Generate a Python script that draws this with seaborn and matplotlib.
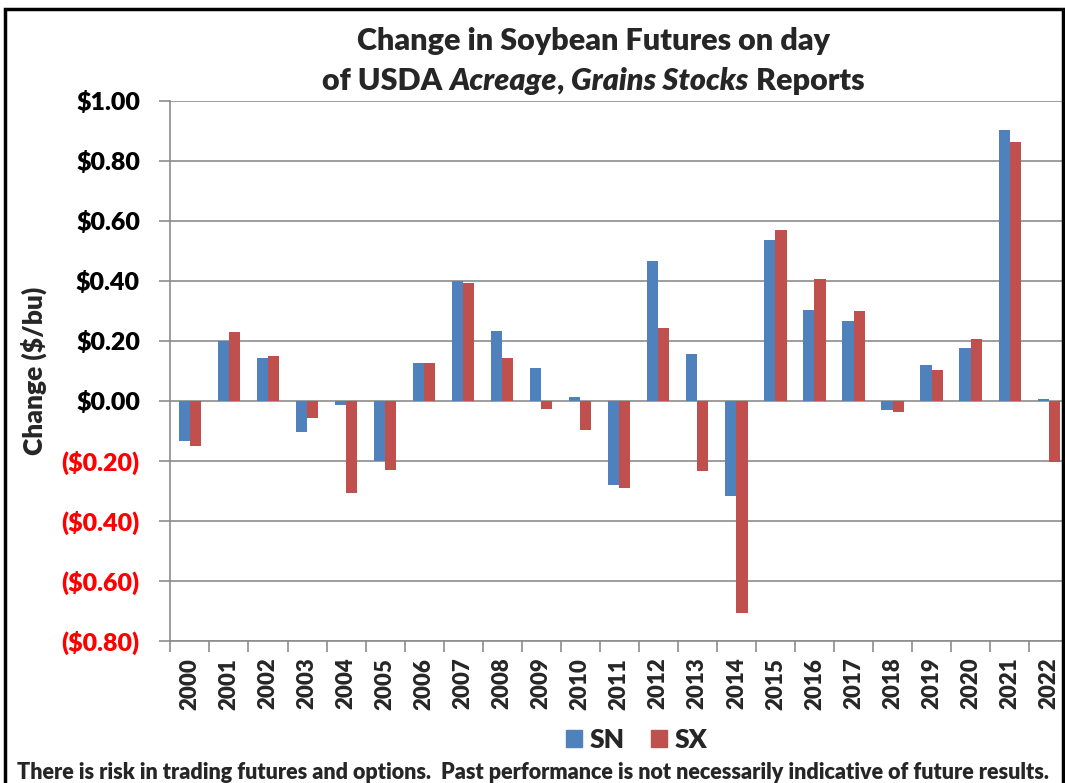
import numpy as np
import pandas as pd
import matplotlib
matplotlib.use('Agg')
import matplotlib.pyplot as plt
import seaborn as sns
from matplotlib.patches import Rectangle

# values ($/bu)
years = [str(y) for y in range(2000, 2023)]
sn = [-0.133, 0.200, 0.142, -0.103, -0.015, -0.200, 0.127, 0.400, 0.234, 0.110,
      0.012, -0.281, 0.465, 0.158, -0.316, 0.535, 0.304, 0.267, -0.030, 0.119,
      0.178, 0.902, 0.006]
sx = [-0.151, 0.229, 0.149, -0.058, -0.307, -0.229, 0.127, 0.394, 0.142, -0.026,
      -0.096, -0.289, 0.242, -0.234, -0.708, 0.571, 0.407, 0.299, -0.037, 0.104,
      0.208, 0.862, -0.202]
series = ['SN', 'SX']
colors = ['#4F81BD', '#C0504D']
yticks = [1.0, 0.8, 0.6, 0.4, 0.2, 0.0, -0.2, -0.4, -0.6, -0.8]

df = pd.DataFrame({
    'year': years * 2,
    'change': sn + sx,
    'contract': ['SN'] * len(years) + ['SX'] * len(years),
})

W = 'heavy'

sns.set_style('white')
plt.rcParams['font.family'] = ['Lato', 'DejaVu Sans']
plt.rcParams['font.weight'] = W

fig = plt.figure(figsize=(10.65, 7.83), dpi=100)
ax = fig.add_axes([0.160, 0.1814, 0.843, 0.6897])

sns.barplot(data=df, x='year', y='change', hue='contract', hue_order=series,
            palette=colors, width=0.57, gap=0, linewidth=0, saturation=1,
            ax=ax, legend=False)

ax.set_ylim(-0.8, 1.0)
ax.set_xlim(-0.5, len(years) - 0.5)
ax.set_yticks(yticks)
ax.yaxis.grid(True, color='#8c8c8c', lw=1.2)
ax.set_axisbelow(True)
for s in ['top', 'right', 'bottom']:
    ax.spines[s].set_visible(False)
ax.spines['left'].set_color('#8c8c8c')
ax.spines['left'].set_linewidth(1.2)

labels = []
for v in yticks:
    if v < 0:
        labels.append(f'(${-v:.2f})')
    else:
        labels.append(f'${v:.2f}')
ax.set_yticklabels(labels, fontsize=18, fontweight=W)
for lab, v in zip(ax.get_yticklabels(), yticks):
    lab.set_color('#FF0000' if v < 0 else 'black')
ax.tick_params(axis='y', length=8, width=1.2, color='#8c8c8c', pad=14, left=True)

ax.set_xticks(range(len(years)))
ax.set_xticklabels(years, rotation=90, fontsize=16, fontweight=W)
ax.tick_params(axis='x', length=0, pad=12)
ax.set_xlabel('')
ax.set_ylabel('Change ($/bu)', fontsize=19, fontweight=W)
ax.yaxis.set_label_coords(-0.138, 0.5)

# zero axis line with category boundary ticks
zero = ax.secondary_xaxis(0)
zero.set_xticks(np.arange(-0.5, len(years), 1))
zero.tick_params(length=8, width=1.2, color='#8c8c8c', labelbottom=False)
zero.spines['bottom'].set_color('#8c8c8c')
zero.spines['bottom'].set_linewidth(1.2)

# title, second line mixes upright and italic words
fig.text(0.557, 0.948, 'Change in Soybean Futures on day', ha='center', va='center',
         fontsize=22, fontweight=W)
pieces = [('of USDA ', 'normal'), ('Acreage', 'italic'), (', ', 'normal'),
          ('Grains Stocks', 'italic'), (' Reports', 'normal')]
renderer = fig.canvas.get_renderer()
texts = []
x = 0.0
for txt, style in pieces:
    t = fig.text(x, 0.897, txt, ha='left', va='center', fontsize=22,
                 fontweight=W, style=style)
    w = t.get_window_extent(renderer).width / fig.bbox.width
    texts.append((t, x))
    x += w
start = 0.557 - x / 2
for t, off in texts:
    t.set_x(start + off)

handles = [Rectangle((0, 0), 1, 1, color=c) for c in colors]
fig.legend(handles, series, loc='center', bbox_to_anchor=(0.598, 0.055), ncol=2,
           frameon=False, prop={'size': 19, 'weight': W}, handlelength=0.6,
           handleheight=0.6, handletextpad=0.3, columnspacing=1.0)

fig.text(0.5, 0.014, 'There is risk in trading futures and options.  Past performance '
         'is not necessarily indicative of future results.', ha='center', va='center',
         fontsize=15.5, fontweight=W)

fig.patches.append(Rectangle((0.005, -0.01), 0.993, 0.998, transform=fig.transFigure,
                             fill=False, edgecolor='black', lw=2.5))

fig.savefig('out.png', dpi=100)
